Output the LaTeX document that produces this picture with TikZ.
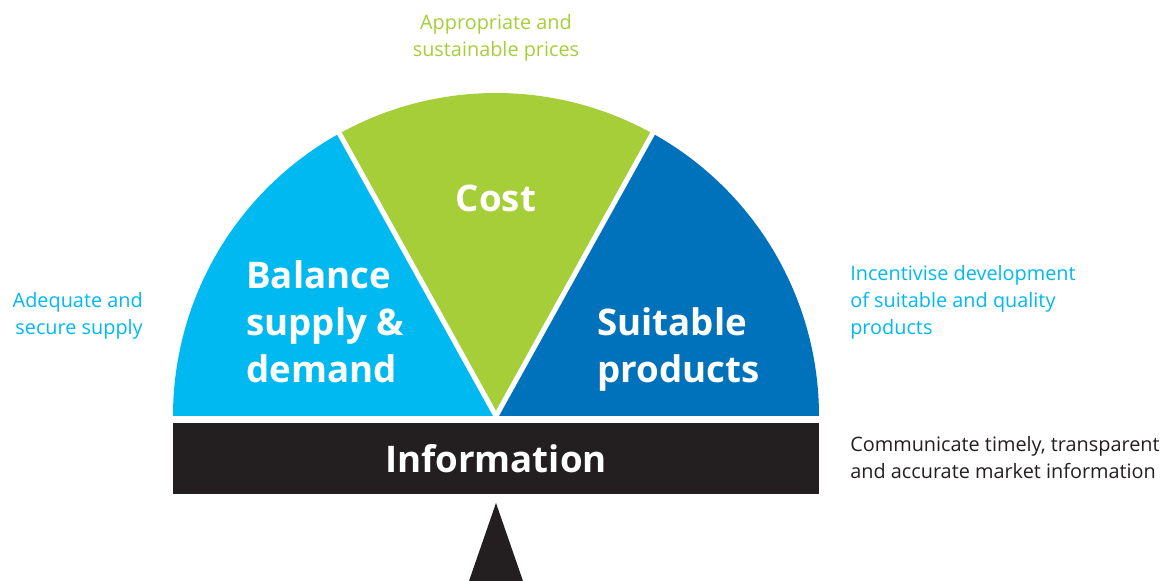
\documentclass[tikz,border=0pt]{standalone}
\usepackage{fontspec}
\setmainfont{Open Sans}
\usepackage{tikz}
\definecolor{skyblue}{HTML}{00B9F1}
\definecolor{leafgreen}{HTML}{A6CE39}
\definecolor{seablue}{HTML}{0072BC}
\definecolor{inkblack}{HTML}{231F20}

\begin{document}
\begin{tikzpicture}[x=0.75pt,y=0.75pt,
  big/.style={white,font=\fontsize{27.5}{35.6}\selectfont\bfseries,align=left,inner sep=0},
  small/.style={font=\fontsize{14.9}{20.25}\selectfont,inner sep=0}]
\useasboundingbox (0,0) rectangle (1164,581);
\coordinate (c) at (496,165);
% the three wedges
\fill[skyblue] (c) -- ++(180:323) arc[start angle=180,end angle=119,radius=323] -- cycle;
\fill[leafgreen] (c) -- ++(119:323) arc[start angle=119,end angle=61,radius=323] -- cycle;
\fill[seablue] (c) -- ++(61:323) arc[start angle=61,end angle=0,radius=323] -- cycle;
\foreach \a in {61,119} {
	\draw[white,line width=3.8] (c) -- ++(\a:330);
}
% bar and pivot
\fill[inkblack] (173,87) rectangle (819,158);
\fill[inkblack] (469,0) -- (496,78) -- (523,0) -- cycle;
\node[big,anchor=base] (info) at (496,108) {Information};
\node[big,anchor=base] (cost) at (496,369) {Cost};
\node[big,anchor=base west] (balance) at (246,198) {Balance\\supply \&\\demand};
\node[big,anchor=base west] (suit) at (597,198) {Suitable\\products};
% notes round the gauge
\node[small,leafgreen,align=center,anchor=base] (price) at (496,524) {Appropriate and\\sustainable prices};
\node[small,skyblue,align=right,anchor=base east] (supply) at (143,246) {Adequate and\\secure supply};
\node[small,skyblue,align=left,anchor=base west] (dev) at (850,246) {Incentivise development\\of suitable and quality\\products};
\node[small,inkblack,align=left,anchor=base west] (comm) at (850,102) {Communicate timely, transparent\\and accurate market information};
\end{tikzpicture}
\end{document}
